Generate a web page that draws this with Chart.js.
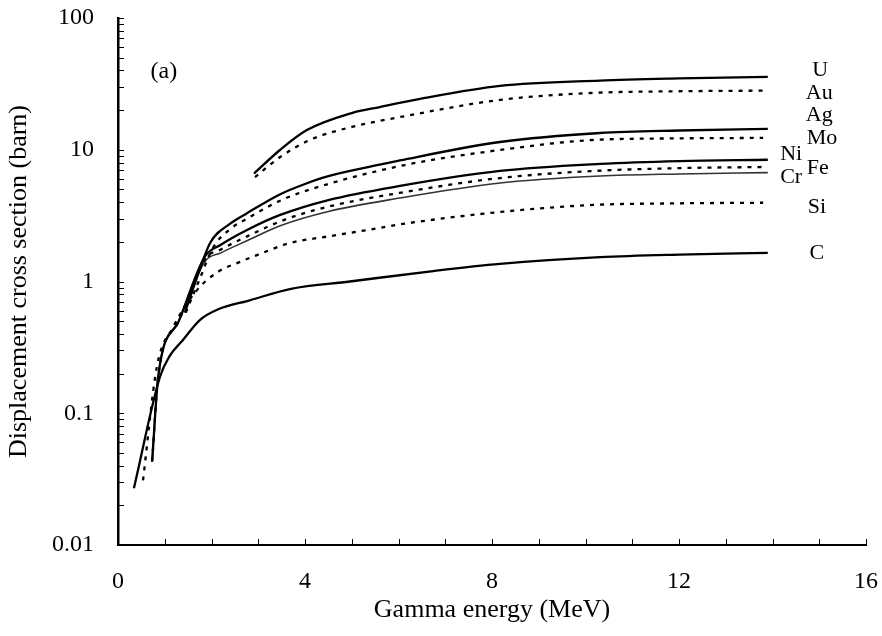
<!DOCTYPE html>
<html>
<head>
<meta charset="utf-8">
<script src="https://cdn.jsdelivr.net/npm/chart.js@4.4.0/dist/chart.umd.min.js"></script>
<style>
  html, body { margin: 0; padding: 0; background: #fff; }
  #wrap { width: 882px; height: 636px; }
</style>
</head>
<body>
<div id="wrap"><canvas id="chart" width="882" height="636"></canvas></div>
<script>
// gamma energy (MeV) and displacement cross section (barn)
const eU  = [2.91, 3.47, 4.04, 5.0, 5.6, 6.46, 8.17, 10.31, 12, 13.9];
const sU  = [6.6, 10.0, 14.1, 19.0, 21.1, 24.3, 30.5, 33.5, 34.8, 35.8];
const eAu = [2.93, 3.47, 4.11, 5.0, 6.14, 8.17, 10.16, 12, 13.8];
const sAu = [6.2, 8.8, 11.9, 14.9, 18.0, 23.9, 27.0, 27.8, 28.1];
const eAg = [1.43, 1.7, 1.97, 2.4, 2.76, 3.47, 4.0, 4.5, 5.6, 6.03, 8.17, 10.31, 12, 13.9];
const sAg = [0.58, 1.1, 1.96, 2.75, 3.3, 4.6, 5.5, 6.3, 7.7, 8.3, 11.45, 13.4, 14.0, 14.4];
const eMo = [1.45, 1.75, 2.03, 2.4, 2.76, 3.53, 4.5, 6.14, 8.17, 10.16, 12, 13.8];
const sMo = [0.58, 1.05, 1.80, 2.5, 3.0, 4.2, 5.5, 7.66, 9.96, 11.86, 12.2, 12.3];
const eNi = [0.73, 0.86, 1.3, 1.86, 2.2, 2.76, 3.47, 4.5, 6.03, 8.17, 10.31, 12, 13.9];
const sNi = [0.043, 0.19, 0.5, 1.55, 1.9, 2.46, 3.2, 4.15, 5.31, 6.9, 7.8, 8.2, 8.4];
const eFe = [0.73, 0.86, 1.3, 1.86, 2.2, 2.76, 3.57, 4.5, 6.14, 8.17, 10.16, 12, 13.8];
const sFe = [0.043, 0.19, 0.5, 1.48, 1.75, 2.2, 2.95, 3.7, 4.78, 6.1, 6.9, 7.25, 7.4];
const eCr = [0.73, 0.86, 1.3, 1.86, 2.2, 2.76, 3.47, 4.5, 6.03, 8.17, 10.31, 12, 13.9];
const sCr = [0.043, 0.19, 0.5, 1.42, 1.65, 2.04, 2.65, 3.4, 4.30, 5.59, 6.32, 6.55, 6.7];
const eSi = [0.535, 0.83, 1.18, 1.69, 2.15, 2.61, 3.0, 3.68, 4.5, 5.6, 6.14, 8.17, 10.16, 12, 13.8];
const sSi = [0.031, 0.224, 0.45, 0.86, 1.19, 1.41, 1.6, 1.96, 2.2, 2.55, 2.75, 3.37, 3.81, 3.92, 3.96];
const eC  = [0.34, 0.9, 1.1, 1.39, 1.75, 2.12, 2.82, 3.7, 4.96, 6.74, 8.17, 10.31, 12, 13.9];
const sC  = [0.027, 0.19, 0.27, 0.36, 0.51, 0.61, 0.72, 0.88, 1.0, 1.2, 1.36, 1.53, 1.6, 1.65];

// element labels at the right end of the curves (data coordinates)
const labelText = ['U', 'Au', 'Ag', 'Mo', 'Ni', 'Fe', 'Cr', 'Si', 'C'];
const labelE    = [15.02, 15.0, 15.0, 15.06, 14.4, 14.97, 14.4, 14.95, 14.95];
const labelS    = [40.3, 27.0, 18.4, 12.3, 9.29, 7.27, 6.21, 3.67, 1.65];
const panelText = '(a)';
const panelE = 0.98;
const panelS = 38.9;

const xTicks = [0, 4, 8, 12, 16];
const yTicks = [0.01, 0.1, 1, 10, 100];

const FONT = '"Liberation Serif", "Times New Roman", serif';

function pts(xs, ys) {
  return xs.map((x, i) => ({ x: x, y: ys[i] }));
}

function series(name, xs, ys, dotted, thin) {
  return {
    label: name,
    data: pts(xs, ys),
    borderColor: thin ? '#333' : '#000',
    borderWidth: thin ? 1.6 : 2.3,
    borderDash: dotted ? [4, 6] : [],
    pointRadius: 0,
    fill: false,
    cubicInterpolationMode: 'monotone'
  };
}

// small inward tick marks on both axes
const innerTicks = {
  id: 'innerTicks',
  afterDraw(chart) {
    const ctx = chart.ctx;
    const a = chart.chartArea;
    const xs = chart.scales.x, ys = chart.scales.y;
    ctx.save();
    ctx.strokeStyle = '#000';
    ctx.lineWidth = 1;
    ys.ticks.forEach(t => {
      const py = Math.round(ys.getPixelForValue(t.value)) + 0.5;
      ctx.beginPath();
      ctx.moveTo(a.left, py);
      ctx.lineTo(a.left + 6, py);
      ctx.stroke();
    });
    xs.ticks.forEach(t => {
      const px = Math.round(xs.getPixelForValue(t.value)) + 0.5;
      ctx.beginPath();
      ctx.moveTo(px, a.bottom);
      ctx.lineTo(px, a.bottom - 6);
      ctx.stroke();
    });
    ctx.restore();
  }
};

const curveLabels = {
  id: 'curveLabels',
  afterDraw(chart) {
    const ctx = chart.ctx;
    const xs = chart.scales.x, ys = chart.scales.y;
    ctx.save();
    ctx.fillStyle = '#000';
    ctx.textAlign = 'center';
    ctx.textBaseline = 'middle';
    ctx.font = '22px ' + FONT;
    labelText.forEach((t, i) => {
      ctx.fillText(t, xs.getPixelForValue(labelE[i]), ys.getPixelForValue(labelS[i]));
    });
    ctx.font = '24px ' + FONT;
    ctx.fillText(panelText, xs.getPixelForValue(panelE), ys.getPixelForValue(panelS));
    ctx.restore();
  }
};

new Chart(document.getElementById('chart'), {
  type: 'line',
  data: {
    datasets: [
      series('U', eU, sU, false),
      series('Au', eAu, sAu, true),
      series('Ag', eAg, sAg, false),
      series('Mo', eMo, sMo, true),
      series('Ni', eNi, sNi, false),
      series('Fe', eFe, sFe, true),
      series('Cr', eCr, sCr, false, true),
      series('Si', eSi, sSi, true),
      series('C', eC, sC, false)
    ]
  },
  options: {
    responsive: false,
    animation: false,
    layout: { padding: { left: 0, top: 18, right: 16, bottom: 0 } },
    plugins: { legend: { display: false }, tooltip: { enabled: false } },
    scales: {
      x: {
        type: 'linear',
        min: 0,
        max: 16,
        afterFit: s => { s.height = 91; s.paddingLeft = 0; s.paddingRight = 0; },
        afterBuildTicks: s => {
          const t = [];
          for (let v = 0; v <= 16; v++) t.push({ value: v });
          s.ticks = t;
        },
        grid: { display: false, drawTicks: false },
        border: { display: true, color: '#000', width: 2 },
        ticks: {
          autoSkip: false,
          maxRotation: 0,
          padding: 22,
          color: '#000',
          font: { family: FONT, size: 24 },
          callback: v => xTicks.includes(v) ? String(v) : ''
        },
        title: {
          display: true,
          text: 'Gamma energy (MeV)',
          color: '#000',
          font: { family: FONT, size: 26 },
          padding: { top: 0, bottom: 10 }
        }
      },
      y: {
        type: 'logarithmic',
        min: 0.01,
        max: 100,
        afterFit: s => { s.width = 118; s.paddingTop = 0; s.paddingBottom = 0; },
        afterBuildTicks: s => {
          const t = [];
          for (let e = -2; e < 2; e++) {
            for (let m = 1; m < 10; m++) t.push({ value: +(m * Math.pow(10, e)).toPrecision(3) });
          }
          t.push({ value: 100 });
          s.ticks = t;
        },
        grid: { display: false, drawTicks: false },
        border: { display: true, color: '#000', width: 2.5 },
        ticks: {
          autoSkip: false,
          padding: 24,
          color: '#000',
          font: { family: FONT, size: 24 },
          callback: v => yTicks.includes(v) ? String(v) : ''
        },
        title: {
          display: true,
          text: 'Displacement cross section (barn)',
          color: '#000',
          font: { family: FONT, size: 26 },
          padding: { top: 4, bottom: 0 }
        }
      }
    }
  },
  plugins: [innerTicks, curveLabels]
});
</script>
</body>
</html>
